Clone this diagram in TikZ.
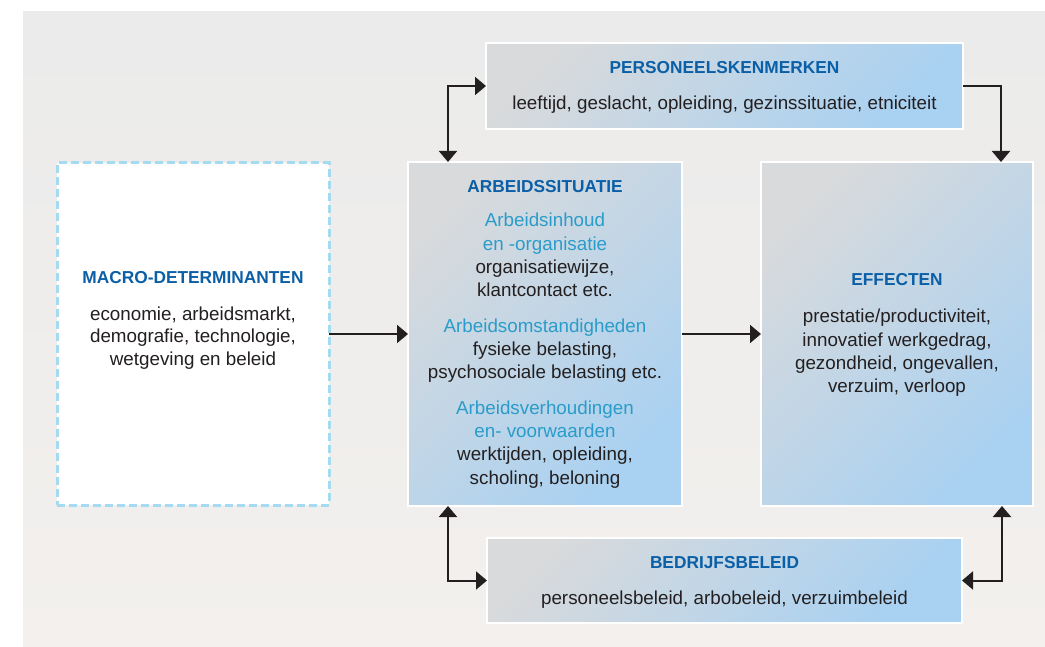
\documentclass[tikz,border=0pt]{standalone}
\usepackage{fontspec}
\setmainfont{Liberation Sans}
\usetikzlibrary{arrows.meta,calc}
\definecolor{ttlblue}{HTML}{0B5FA6}
\definecolor{subcyan}{HTML}{2A9CC9}
\definecolor{bodytxt}{HTML}{231F20}
\definecolor{boxgray}{HTML}{D8DADC}
\definecolor{boxblue}{HTML}{A9D1F1}
\definecolor{bgtop}{HTML}{EBEBEB}
\definecolor{bgbot}{HTML}{F3F0ED}
\definecolor{dashblue}{HTML}{A6DAF0}
\definecolor{arrowblk}{HTML}{231F20}
\tikzset{
  panel/.style={draw=white, line width=1.2pt, inner sep=0pt, outer sep=0pt, anchor=north west,
    left color=boxgray, right color=boxblue, shading angle=45},
  macrobox/.style={draw=dashblue, line width=3pt, dash pattern=on 8pt off 4pt, fill=white,
    inner sep=0pt, outer sep=0pt, anchor=north west},
  ttl/.style={font=\bfseries\fontsize{17.3}{20}\selectfont, text=ttlblue, inner sep=0pt, anchor=base},
  sub/.style={font=\fontsize{18.8}{23}\selectfont, text=subcyan, inner sep=0pt, anchor=base},
  txt/.style={font=\fontsize{18.8}{23}\selectfont, text=bodytxt, inner sep=0pt, anchor=base},
  conn/.style={draw=arrowblk, line width=2pt, -{Triangle[width=18pt,length=11pt]}},
  conn2/.style={draw=arrowblk, line width=2pt, {Triangle[width=18pt,length=11pt]}-{Triangle[width=18pt,length=11pt]}}
}
\begin{document}
\begin{tikzpicture}[x=1pt,y=-1pt]
\useasboundingbox (0,0) rectangle (1045,647);
% background
\fill[top color=bgtop, bottom color=bgbot] (23,12) rectangle (1045,647);

% boxes
\node[panel, minimum width=477pt, minimum height=86pt] (pers) at (486,43) {};
\node[macrobox, minimum width=272pt, minimum height=342pt] (macro) at (57,163) {};
\node[panel, minimum width=274pt, minimum height=344pt] (arb) at (408,162) {};
\node[panel, minimum width=272pt, minimum height=344pt] (eff) at (761,162) {};
\node[panel, minimum width=475pt, minimum height=85pt] (bed) at (487,538) {};

% PERSONEELSKENMERKEN
\node[ttl] (persT) at (724.5,74) {PERSONEELSKENMERKEN};
\node[txt] (persL) at (724.5,109.3) {leeftijd, geslacht, opleiding, gezinssituatie, etniciteit};

% MACRO
\node[ttl] (macT) at (193,284) {MACRO-DETERMINANTEN};
\node[txt] (mac1) at (193,320) {economie, arbeidsmarkt,};
\node[txt] (mac2) at (193,342.7) {demografie, technologie,};
\node[txt] (mac3) at (193,366) {wetgeving en beleid};

% ARBEIDSSITUATIE
\node[ttl] (arbT) at (545,192.3) {ARBEIDSSITUATIE};
\node[sub] (arbS1a) at (545,227) {Arbeidsinhoud};
\node[sub] (arbS1b) at (545,250.3) {en -organisatie};
\node[txt] (arbL1a) at (545,273.6) {organisatiewijze,};
\node[txt] (arbL1b) at (545,296.9) {klantcontact etc.};
\node[sub] (arbS2) at (545,332.3) {Arbeidsomstandigheden};
\node[txt] (arbL2a) at (545,355.3) {fysieke belasting,};
\node[txt] (arbL2b) at (545,378.3) {psychosociale belasting etc.};
\node[sub] (arbS3a) at (545,414) {Arbeidsverhoudingen};
\node[sub] (arbS3b) at (545,437.3) {en- voorwaarden};
\node[txt] (arbL3a) at (545,460.7) {werktijden, opleiding,};
\node[txt] (arbL3b) at (545,484) {scholing, beloning};

% EFFECTEN
\node[ttl] (effT) at (897,286) {EFFECTEN};
\node[txt] (eff1) at (897,322.7) {prestatie/productiviteit,};
\node[txt] (eff2) at (897,346) {innovatief werkgedrag,};
\node[txt] (eff3) at (897,369.3) {gezondheid, ongevallen,};
\node[txt] (eff4) at (897,392.3) {verzuim, verloop};

% BEDRIJFSBELEID
\node[ttl] (bedT) at (724.5,568.3) {BEDRIJFSBELEID};
\node[txt] (bedL) at (724.5,604) {personeelsbeleid, arbobeleid, verzuimbeleid};

% connectors
\coordinate (arbTop) at ($(arb.north west)+(40,0)$);
\coordinate (arbBot) at ($(arb.south west)+(40,0)$);
\coordinate (effTop) at ($(eff.north west)+(240,0)$);
\coordinate (effBot) at ($(eff.south west)+(241,0)$);
\draw[conn2] (pers.west) -| (arbTop);
\draw[conn] (pers.east) -| (effTop);
\draw[conn] (macro.east) -- (arb.west);
\draw[conn] (arb.east) -- (eff.west);
\draw[conn2] (bed.west) -| (arbBot);
\draw[conn2] (bed.east) -| (effBot);
\end{tikzpicture}
\end{document}
